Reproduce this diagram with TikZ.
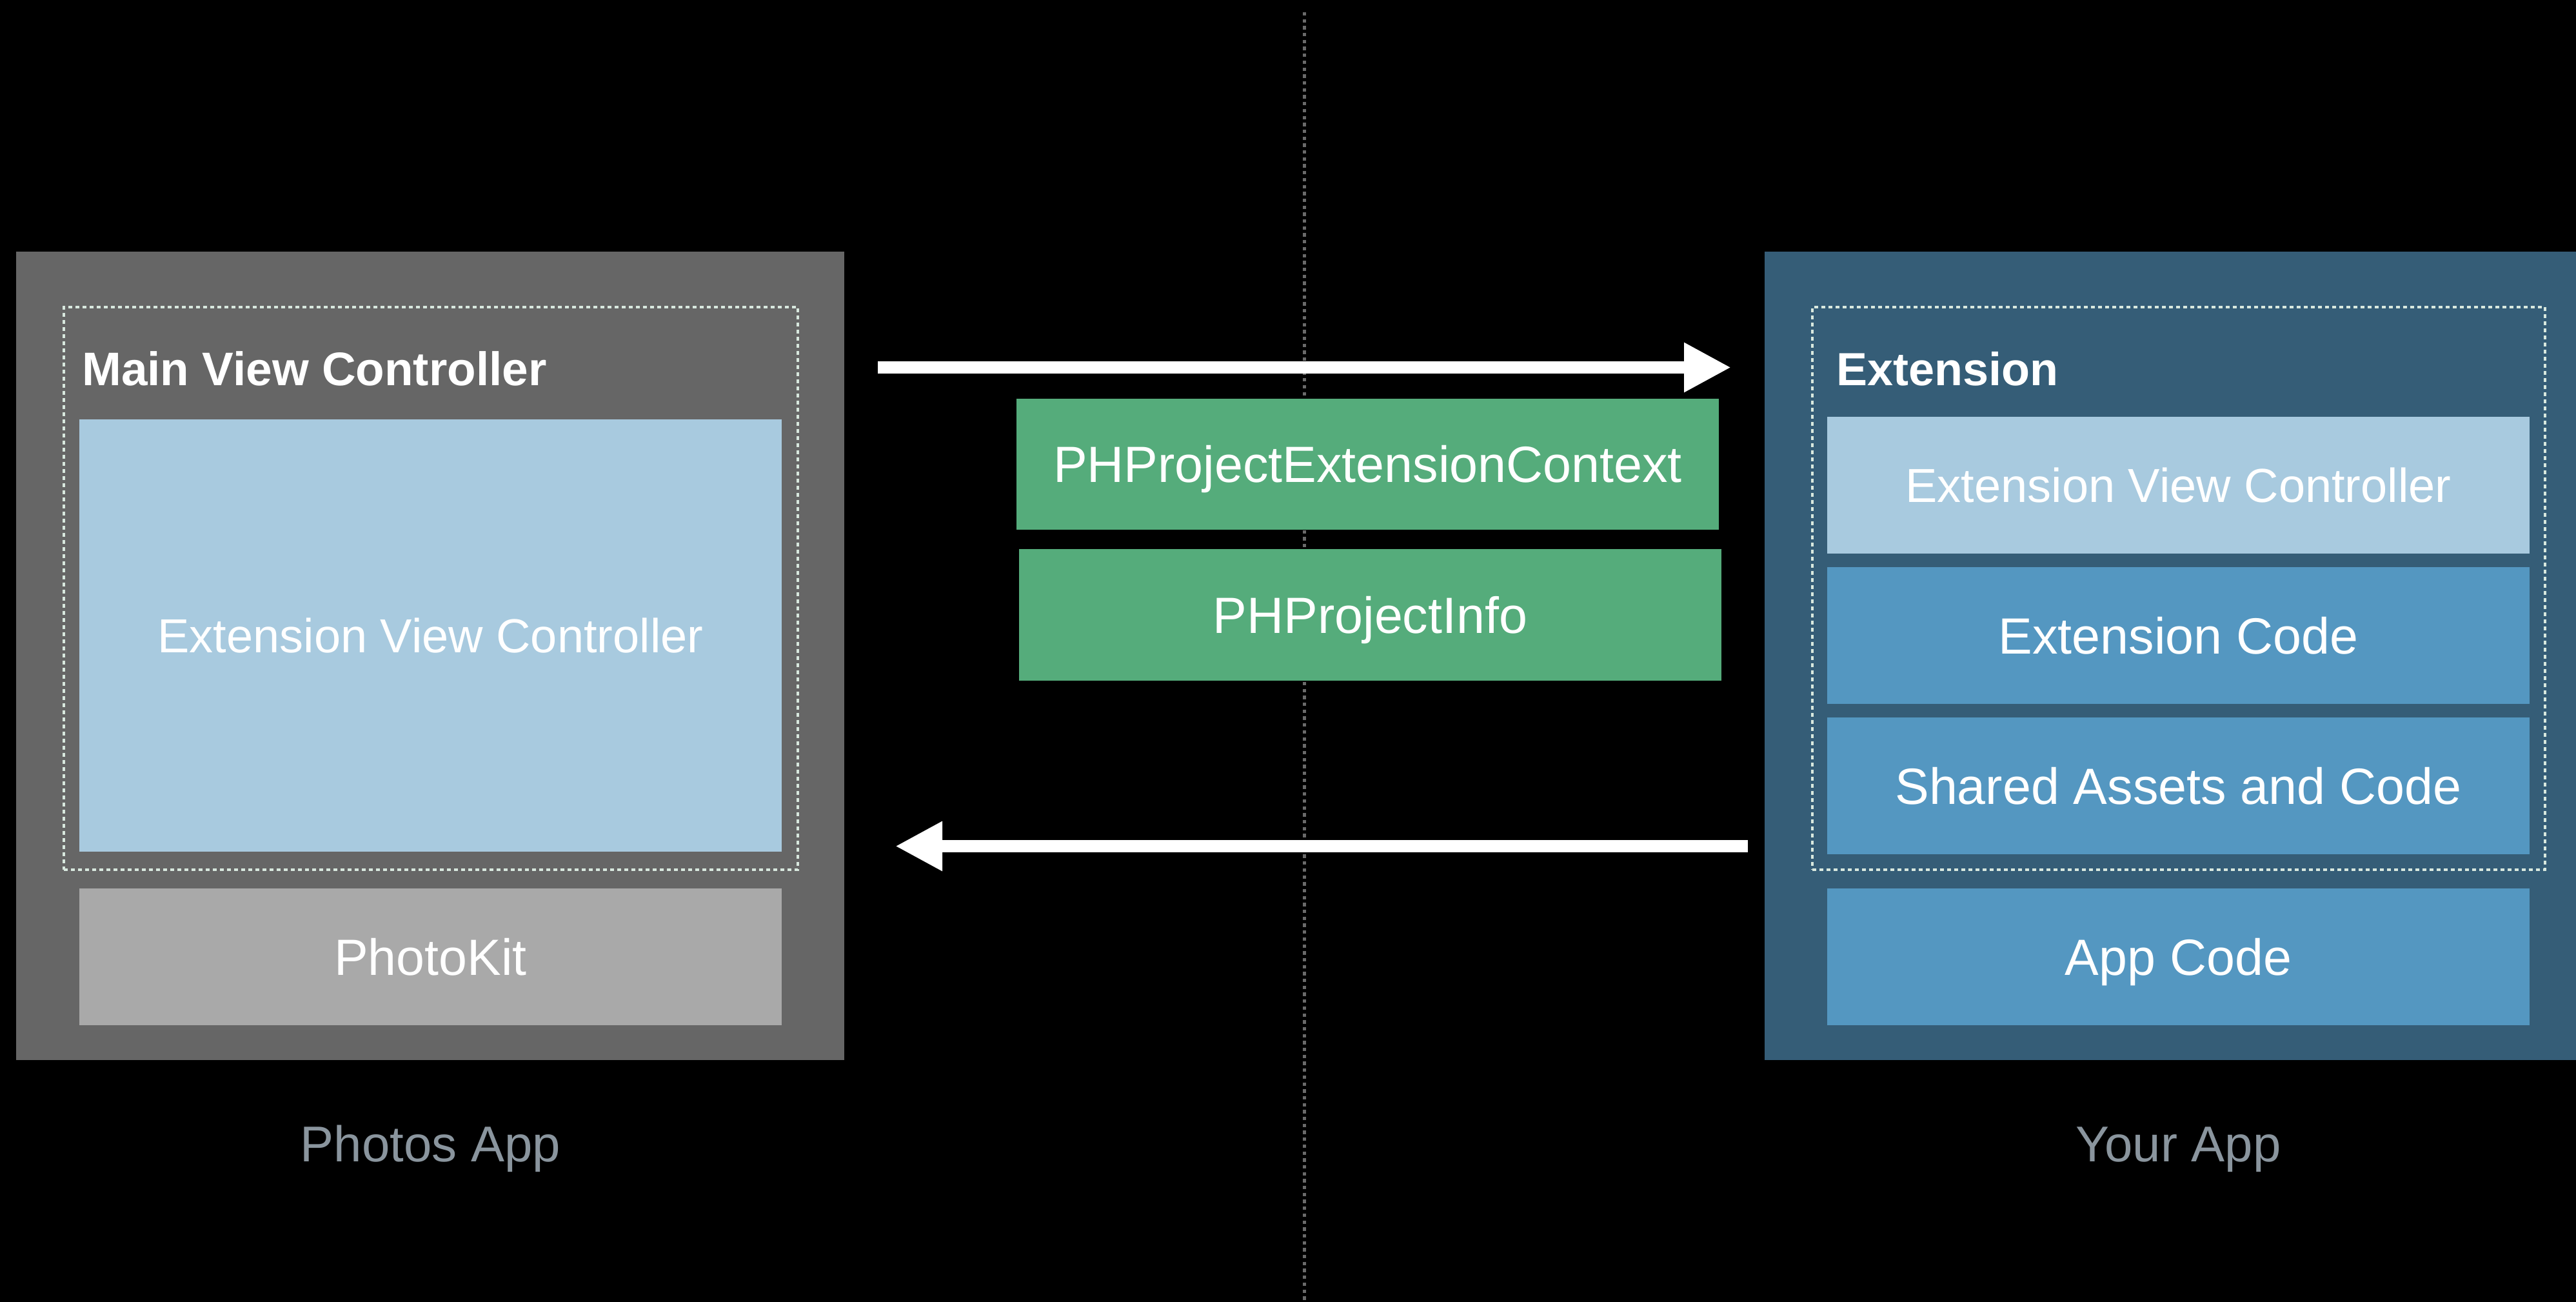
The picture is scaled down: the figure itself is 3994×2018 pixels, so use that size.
\documentclass[tikz,border=0pt]{standalone}
\usepackage{fontspec}
\setmainfont{Liberation Sans}
\usetikzlibrary{arrows.meta}

\definecolor{panelgray}{HTML}{666666}
\definecolor{panelblue}{HTML}{355D77}
\definecolor{lightblue}{HTML}{A8CADF}
\definecolor{kitgray}{HTML}{A9A9A9}
\definecolor{codeblue}{HTML}{5497C1}
\definecolor{ctxgreen}{HTML}{55AC7B}
\definecolor{dashline}{HTML}{D8E8DE}
\definecolor{captiongray}{HTML}{8A959E}
\definecolor{dividergray}{HTML}{6A6A6A}

\tikzset{
  panel/.style={inner sep=0pt, outer sep=0pt},
  groupframe/.style={draw=dashline, line width=4pt, dash pattern=on 6pt off 5pt, inner sep=0pt},
  layer/.style={inner sep=0pt, outer sep=0pt, text=white,
    minimum width=1089pt, minimum height=212pt,
    font=\fontsize{79pt}{95pt}\selectfont, text height=56.6pt, text depth=0pt},
  smalllayer/.style={layer, font=\fontsize{74pt}{89pt}\selectfont, text height=53pt},
  header/.style={anchor=base west, inner sep=0pt, text=white,
    font=\fontsize{73pt}{88pt}\selectfont\bfseries},
  caption/.style={anchor=base, inner sep=0pt, text=captiongray,
    font=\fontsize{78pt}{94pt}\selectfont},
  flow/.style={white, line width=19pt, -{Triangle[length=73pt, width=72pt]}},
  divider/.style={dividergray, line width=5pt, dash pattern=on 5.3pt off 5.4pt}
}

\begin{document}
\begin{tikzpicture}[x=1pt, y=-1pt]
  % canvas
  \useasboundingbox (0,0) rectangle (3994,2018);
  \fill[black] (0,0) rectangle (3994,2018);

  % process boundary
  \coordinate (divtop) at (2022,19);
  \coordinate (divbottom) at (2022,2018);
  \draw[divider] (divtop) -- (divbottom);

  % Photos App side
  \node[panel, fill=panelgray, minimum width=1284pt, minimum height=1253pt] (photos) at (667,1016.5) {};
  \node[groupframe, minimum width=1138pt, minimum height=872pt] (mainvc) at (668,912) {};
  \node[header] (mainvclabel) at (127,597) {Main View Controller};
  \node[smalllayer, fill=lightblue, minimum height=670pt] (hostedvc) at (667.5,985) {Extension View Controller};
  \node[layer, fill=kitgray] (photokit) at (667.5,1483) {PhotoKit};
  \node[caption] (photoscap) at (667.5,1800) {Photos App};

  % Your App side
  \node[panel, fill=panelblue, minimum width=1258pt, minimum height=1253pt] (yourapp) at (3365,1016.5) {};
  \node[groupframe, minimum width=1136pt, minimum height=872pt] (extension) at (3378,912) {};
  \node[header, font=\fontsize{72pt}{86pt}\selectfont\bfseries] (extlabel) at (2847,597) {Extension};
  \node[smalllayer, fill=lightblue] (extvc) at (3377.5,752) {Extension View Controller};
  \node[layer, fill=codeblue] (extcode) at (3377.5,985) {Extension Code};
  \node[layer, fill=codeblue] (shared) at (3377.5,1218) {Shared Assets and Code};
  \node[layer, fill=codeblue] (appcode) at (3377.5,1483) {App Code};
  \node[caption] (yourcap) at (3377.5,1800) {Your App};

  % objects handed to the extension
  \node[layer, fill=ctxgreen, minimum height=203pt] (context) at (2120.5,719.5) {PHProjectExtensionContext};
  \node[layer, fill=ctxgreen, minimum height=204pt] (info) at (2124.5,953) {PHProjectInfo};

  % request and response
  \coordinate (fwdstart) at (1361,569.5);
  \coordinate (fwdend) at (2684,569.5);
  \coordinate (backstart) at (2710,1311.5);
  \coordinate (backend) at (1388,1311.5);
  \draw[flow] (fwdstart) -- (fwdend);
  \draw[flow] (backstart) -- (backend);
\end{tikzpicture}
\end{document}
